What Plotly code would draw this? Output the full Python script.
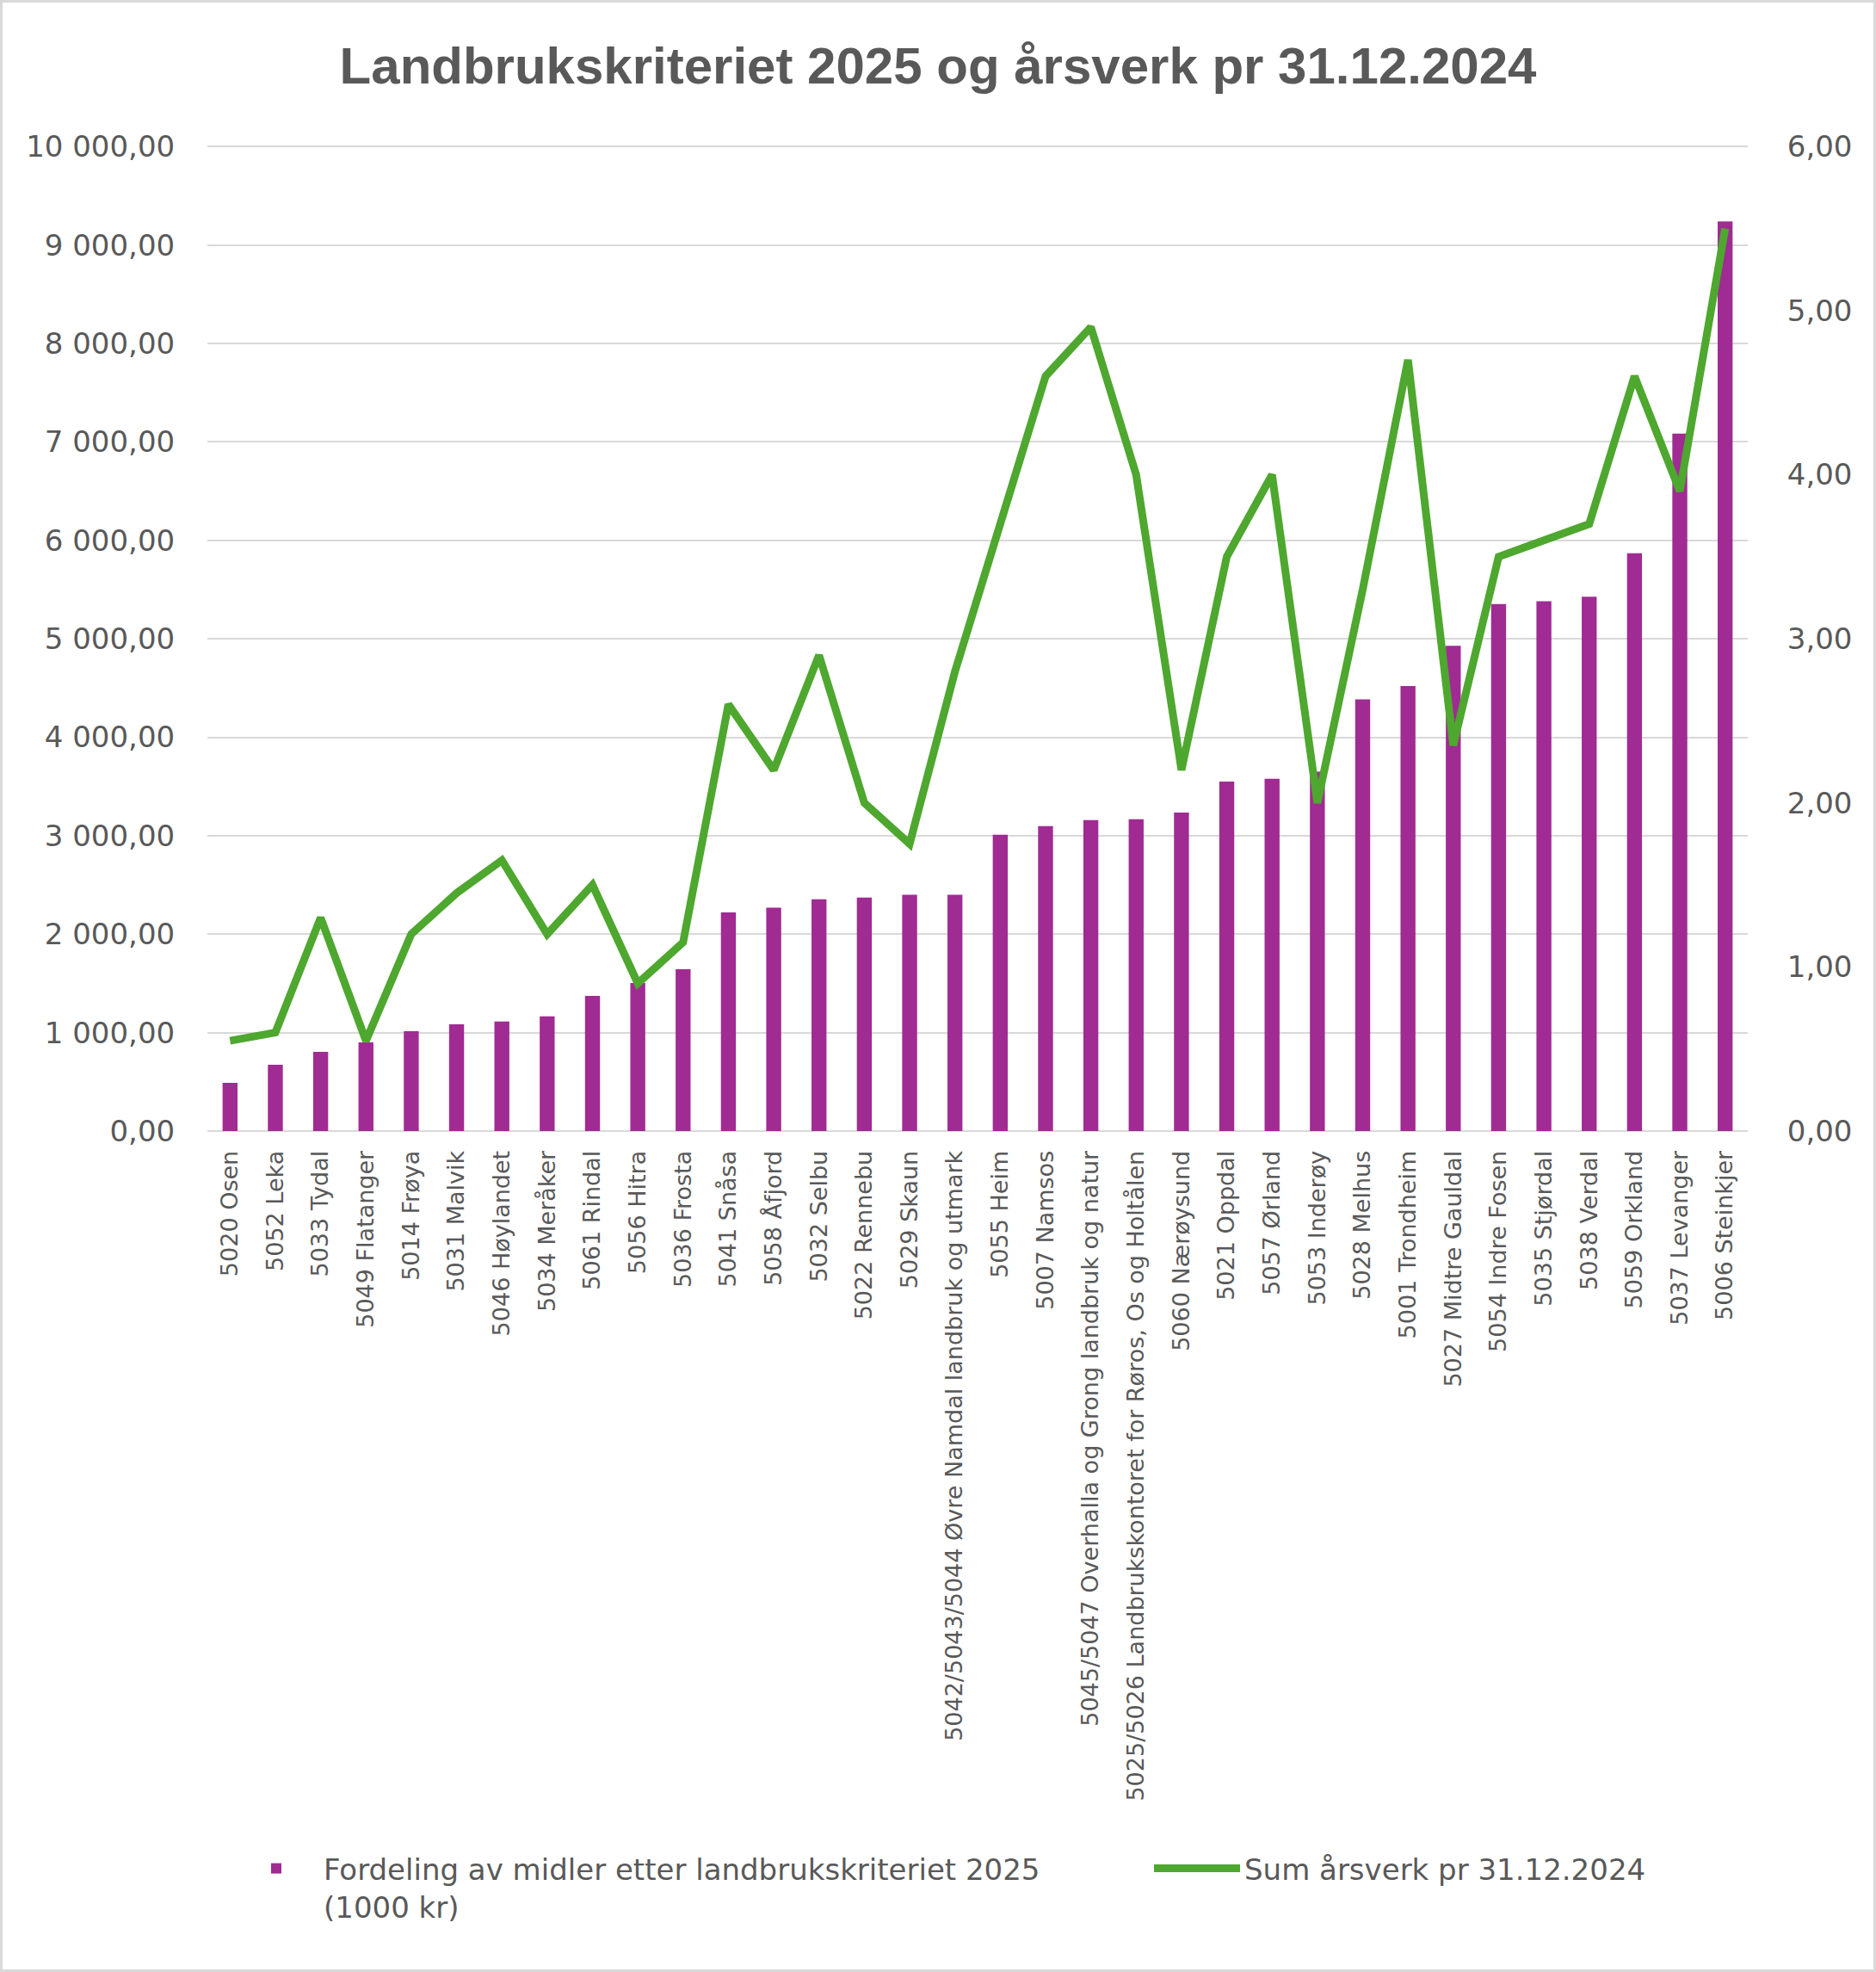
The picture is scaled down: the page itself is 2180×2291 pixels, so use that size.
import plotly.graph_objects as go

# Data
categories = [
    "5020 Osen", "5052 Leka", "5033 Tydal", "5049 Flatanger", "5014 Frøya",
    "5031 Malvik", "5046 Høylandet", "5034 Meråker", "5061 Rindal", "5056 Hitra",
    "5036 Frosta", "5041 Snåsa", "5058 Åfjord", "5032 Selbu", "5022 Rennebu",
    "5029 Skaun", "5042/5043/5044 Øvre Namdal landbruk og utmark", "5055 Heim",
    "5007 Namsos", "5045/5047 Overhalla og Grong landbruk og natur",
    "5025/5026 Landbrukskontoret for Røros, Os og Holtålen", "5060 Nærøysund",
    "5021 Oppdal", "5057 Ørland", "5053 Inderøy", "5028 Melhus", "5001 Trondheim",
    "5027 Midtre Gauldal", "5054 Indre Fosen", "5035 Stjørdal", "5038 Verdal",
    "5059 Orkland", "5037 Levanger", "5006 Steinkjer",
]

fordeling = [
    490, 673, 804, 900, 1015, 1085, 1112, 1164, 1372, 1503,
    1643, 2220, 2270, 2355, 2372, 2399, 2400, 3011, 3098, 3159,
    3168, 3234, 3549, 3578, 3650, 4385, 4520, 4930, 5354, 5381,
    5428, 5870, 7085, 9240,
]

arsverk = [
    0.55, 0.60, 1.30, 0.55, 1.20, 1.45, 1.65, 1.20, 1.50, 0.90,
    1.15, 2.60, 2.20, 2.90, 2.00, 1.75, 2.80, 3.70, 4.60, 4.90,
    4.00, 2.20, 3.50, 4.00, 2.00, 3.30, 4.70, 2.35, 3.50, 3.60,
    3.70, 4.60, 3.90, 5.50,
]

left_ticks = list(range(0, 10001, 1000))
right_ticks = [0, 1, 2, 3, 4, 5, 6]

TXT = "#595959"
GRID = "#D9D9D9"
FONT = "DejaVu Sans"

W, H = 2180, 2291
ML, MR, MT, MB = 241, 149, 168, 977
PW = W - ML - MR
PH = H - MT - MB
# small headroom so the top gridline is not clipped at the plot edge
HEAD = 1.002


def py(pixel_y):
    # page pixel row -> paper y
    return (MT + PH - pixel_y) / PH


def px(pixel_x):
    return (pixel_x - ML) / PW


fig = go.Figure()

fig.add_trace(go.Bar(
    name="Fordeling av midler etter landbrukskriteriet 2025<br>(1000 kr)",
    x=categories,
    y=fordeling,
    marker=dict(color="#A02B93", line=dict(width=0)),
    yaxis="y",
    legend="legend",
))

fig.add_trace(go.Scatter(
    name="Sum årsverk pr 31.12.2024",
    x=categories,
    y=arsverk,
    mode="lines",
    line=dict(color="#4EA72E", width=9),
    yaxis="y2",
    legend="legend2",
))

legend_common = dict(
    orientation="h",
    xanchor="left",
    yanchor="top",
    y=py(2142),
    font=dict(family=FONT, size=34, color=TXT),
    valign="top",
    itemwidth=100,
    bgcolor="rgba(0,0,0,0)",
)

fig.update_layout(
    width=W,
    height=H,
    margin=dict(l=ML, r=MR, t=MT, b=MB, autoexpand=False),
    paper_bgcolor="white",
    plot_bgcolor="white",
    separators=", ",
    bargap=0.67,
    showlegend=True,
    title=dict(
        text="Landbrukskriteriet 2025 og årsverk pr 31.12.2024",
        x=0.5, xref="container", xanchor="center",
        y=1 - 76 / H, yref="container", yanchor="middle",
        font=dict(family="Liberation Sans", size=60, color=TXT, weight="bold"),
    ),
    xaxis=dict(
        type="category",
        tickangle=-90,
        tickfont=dict(family=FONT, size=27, color=TXT),
        showgrid=False,
        showline=False,
        automargin=False,
        ticks="outside",
        ticklen=11,
        tickcolor="rgba(0,0,0,0)",
    ),
    yaxis=dict(
        range=[0, 10000 * HEAD],
        tickvals=left_ticks,
        tickformat=",.2f",
        tickfont=dict(family=FONT, size=34, color=TXT),
        showgrid=True,
        gridcolor=GRID,
        gridwidth=2,
        zeroline=True,
        zerolinecolor=GRID,
        zerolinewidth=2,
        automargin=False,
        ticks="outside",
        ticklen=30,
        tickcolor="rgba(0,0,0,0)",
    ),
    yaxis2=dict(
        overlaying="y",
        side="right",
        range=[0, 6 * HEAD],
        tickvals=right_ticks,
        tickformat=".2f",
        tickfont=dict(family=FONT, size=34, color=TXT),
        showgrid=False,
        zeroline=False,
        automargin=False,
        ticks="outside",
        ticklen=38,
        tickcolor="rgba(0,0,0,0)",
    ),
    legend=dict(x=px(266), **legend_common),
    legend2=dict(x=px(1336), **legend_common),
)

# light grey frame around the whole chart
pad = 1.5
fig.add_shape(
    type="rect", xref="paper", yref="paper",
    x0=px(pad), x1=px(W - pad),
    y0=py(H - pad), y1=py(pad),
    line=dict(color=GRID, width=3),
    fillcolor="rgba(0,0,0,0)",
    layer="below",
)

# drop the browser's default body margin so the chart sits at the page corner
fig.write_html(
    "out.html",
    config={"displayModeBar": False},
    post_script="document.body.style.margin='0';",
)
